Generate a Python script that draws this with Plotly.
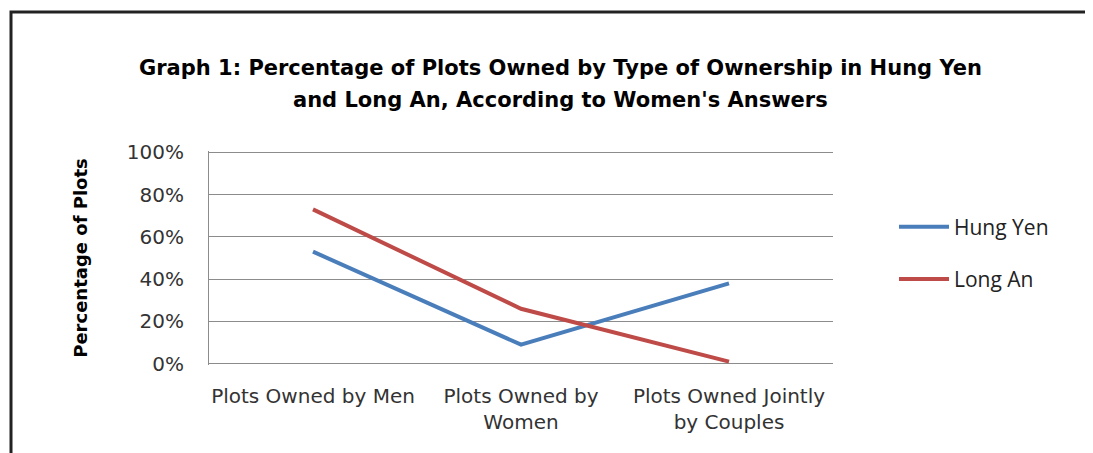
import plotly.graph_objects as go

categories = ["Plots Owned by Men", "Plots Owned by<br>Women", "Plots Owned Jointly<br>by Couples"]
hung_yen = [53, 9, 38]
long_an = [73, 26, 1]
y_ticks = [0, 20, 40, 60, 80, 100]
y_tick_labels = ["0%", "20%", "40%", "60%", "80%", "100%"]
title_lines = ["Graph 1: Percentage of Plots Owned by Type of Ownership in Hung Yen",
               "and Long An, According to Women's Answers"]

fig = go.Figure()
fig.add_trace(go.Scatter(x=categories, y=hung_yen, name="Hung Yen", mode="lines",
                         line=dict(color="#4a7ebb", width=4), legendgroup="a"))
fig.add_trace(go.Scatter(x=categories, y=long_an, name="Long An", mode="lines",
                         line=dict(color="#be4b48", width=4), legendgroup="b"))

# page has an 8px body margin, so the figure starts at (8, 8)
OFF = 8
FW, FH = 1093 - OFF, 453 - OFF
# plot area in page pixels: x 209..833, y 152..364
L, R, T, B = 209, 833, 151, 365
W, H = R - L, B - T

def px(x):
    return (x - L) / W

def py(y):
    return (B - y) / H

fig.update_layout(
    width=FW, height=FH,
    margin=dict(l=L - OFF, r=FW - (R - OFF), t=T - OFF, b=FH - (B - OFF), pad=0),
    paper_bgcolor="white", plot_bgcolor="white",
    font=dict(family="DejaVu Sans", color="#333333"),
    xaxis=dict(range=[-0.5, 2.5], showgrid=False, showline=False, ticks="",
               ticklabelstandoff=17, tickfont=dict(size=20, color="#333333")),
    yaxis=dict(range=[-0.6, 100.6], tickvals=y_ticks, ticktext=y_tick_labels,
               showgrid=True, gridcolor="#8c8c8c", gridwidth=1,
               showline=True, linecolor="#8c8c8c", linewidth=1,
               zeroline=True, zerolinecolor="#8c8c8c", zerolinewidth=1,
               ticks="", ticklabelstandoff=20, tickfont=dict(size=20, color="#333333"),
               title=dict(text="Percentage of Plots", standoff=34,
                          font=dict(size=18, color="black", weight="bold"))),
    legend=dict(x=px(894), xanchor="left", y=py(253), yanchor="middle",
                font=dict(family="Open Sans", size=21, color="#222222"),
                tracegroupgap=22, itemwidth=50),
    showlegend=True,
)
for line, ypos in zip(title_lines, [68, 100]):
    fig.add_annotation(text=line, xref="paper", yref="paper", x=px(560), y=py(ypos),
                       xanchor="center", yanchor="middle", showarrow=False,
                       font=dict(family="DejaVu Sans", size=21, color="black", weight="bold"))
fig.add_shape(type="rect", xref="paper", yref="paper",
              x0=px(11), x1=px(1092), y0=py(12), y1=py(470),
              line=dict(color="#222222", width=3))
fig.write_html("out.html")
